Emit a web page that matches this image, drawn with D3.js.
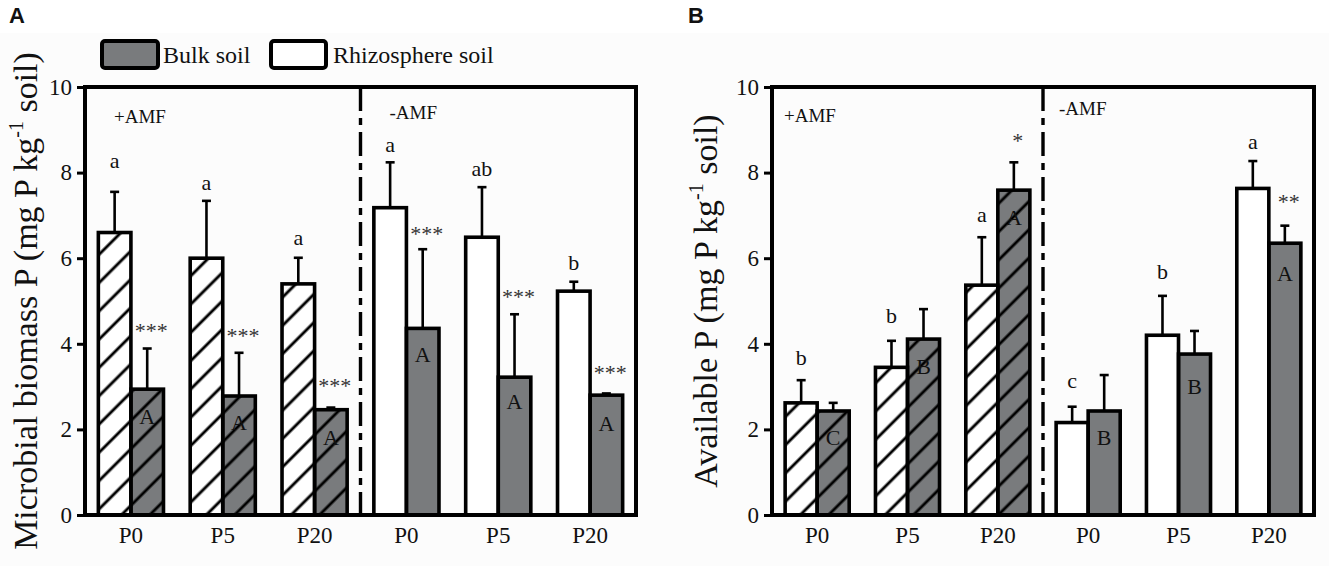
<!DOCTYPE html>
<html>
<head>
<meta charset="utf-8">
<script src="https://cdn.jsdelivr.net/npm/d3@7"></script>
<style>
  body { margin: 0; background: #fff; }
  svg text { font-family: "Liberation Serif", "Times New Roman", serif; fill: #111; }
</style>
</head>
<body>
<div id="chart"></div>
<script>
// ---- data ----
const groups = ["+AMF P0", "+AMF P5", "+AMF P20", "-AMF P0", "-AMF P5", "-AMF P20"];
const tickLabels = ["P0", "P5", "P20", "P0", "P5", "P20"];
const soils = ["rhizo", "bulk"];
const hatched = [true, true, true, false, false, false];
const yTicks = [0, 2, 4, 6, 8, 10];

// A: microbial biomass P
const mbpRhizo = [6.60, 6.00, 5.40, 7.18, 6.49, 5.23];
const mbpRhizoErr = [0.95, 1.34, 0.61, 1.06, 1.17, 0.22];
const mbpBulk = [2.94, 2.78, 2.46, 4.36, 3.22, 2.80];
const mbpBulkErr = [0.95, 1.01, 0.05, 1.85, 1.47, 0.04];
const mbpRhizoLetters = ["a", "a", "a", "a", "ab", "b"];
const mbpRhizoLetterY = [8.22, 7.71, 6.43, 8.60, 8.10, 5.89];
const mbpStars = ["***", "***", "***", "***", "***", "***"];
const mbpStarY = [4.40, 4.28, 3.11, 6.66, 5.18, 3.41];
const mbpBulkLetters = ["A", "A", "A", "A", "A", "A"];
const mbpBulkLetterY = [2.31, 2.15, 1.82, 3.74, 2.64, 2.13];

// B: available P
const apRhizo = [2.62, 3.45, 5.37, 2.16, 4.20, 7.63];
const apRhizoErr = [0.53, 0.62, 1.12, 0.37, 0.92, 0.64];
const apBulk = [2.43, 4.11, 7.59, 2.43, 3.76, 6.35];
const apBulkErr = [0.19, 0.70, 0.65, 0.84, 0.54, 0.41];
const apRhizoLetters = ["b", "b", "a", "c", "b", "a"];
const apRhizoLetterY = [3.69, 4.67, 6.97, 3.08, 5.68, 8.68];
const apStars = ["", "", "*", "", "", "**"];
const apStarY = [0, 0, 8.84, 0, 0, 7.40];
const apBulkLetters = ["C", "B", "A", "B", "B", "A"];
const apBulkLetterY = [1.80, 3.46, 6.94, 1.80, 3.00, 5.65];

const gray = "#797b7d";
const width = 1329, height = 566;
const plotTop = 87, plotBottom = 515;

const svg = d3.select("#chart").append("svg")
    .attr("width", width)
    .attr("height", height);

svg.append("rect").attr("width", width).attr("height", height).attr("fill", "#fff");
svg.append("rect").attr("y", 33).attr("width", width).attr("height", height - 33).attr("fill", "#fcfcfc");

const defs = svg.append("defs");
defs.append("pattern")
    .attr("id", "hatch")
    .attr("patternUnits", "userSpaceOnUse")
    .attr("width", 20).attr("height", 20)
    .attr("patternTransform", "rotate(45)")
    .append("line")
    .attr("x1", 10).attr("y1", 0).attr("x2", 10).attr("y2", 20)
    .attr("stroke", "#000").attr("stroke-width", 2.9);

function labelDy(t) {
    if (/^\*+$/.test(t)) return "0.5em";
    if (/^[ac]$/.test(t)) return "0.23em";
    return "0.34em";
}

function drawPanel(p) {
    const y = d3.scaleLinear().domain([0, 10]).range([plotBottom, plotTop]);
    const x0 = d3.scaleBand().domain(groups).range([p.left, p.right]);
    const x1 = d3.scaleBand().domain(soils).range([0, x0.bandwidth()]).paddingOuter(0.41);
    const g = svg.append("g");

    const bars = [];
    groups.forEach((grp, i) => {
        bars.push({grp: grp, soil: "rhizo", v: p.rhizo[i], e: p.rhizoErr[i], hatch: hatched[i]});
        bars.push({grp: grp, soil: "bulk", v: p.bulk[i], e: p.bulkErr[i], hatch: hatched[i]});
    });

    const bx = d => x0(d.grp) + x1(d.soil);
    const cx = d => bx(d) + x1.bandwidth() / 2;

    // error bars (upper only)
    g.selectAll(".err").data(bars).enter().append("line")
        .attr("x1", cx).attr("x2", cx)
        .attr("y1", d => y(d.v)).attr("y2", d => y(d.v + d.e))
        .attr("stroke", "#000").attr("stroke-width", 2.6);
    g.selectAll(".cap").data(bars).enter().append("line")
        .attr("x1", d => cx(d) - 4.5).attr("x2", d => cx(d) + 4.5)
        .attr("y1", d => y(d.v + d.e)).attr("y2", d => y(d.v + d.e))
        .attr("stroke", "#000").attr("stroke-width", 2.6);

    g.selectAll(".bar").data(bars).enter().append("rect")
        .attr("x", bx).attr("width", x1.bandwidth())
        .attr("y", d => y(d.v)).attr("height", d => y(0) - y(d.v))
        .attr("fill", d => d.soil === "bulk" ? gray : "#fff");
    g.selectAll(".hatch").data(bars.filter(d => d.hatch)).enter().append("rect")
        .attr("x", bx).attr("width", x1.bandwidth())
        .attr("y", d => y(d.v)).attr("height", d => y(0) - y(d.v))
        .attr("fill", "url(#hatch)");
    g.selectAll(".outline").data(bars).enter().append("rect")
        .attr("x", bx).attr("width", x1.bandwidth())
        .attr("y", d => y(d.v)).attr("height", d => y(0) - y(d.v))
        .attr("fill", "none").attr("stroke", "#000").attr("stroke-width", 3.6);

    // annotation letters
    const rc = i => x0(groups[i]) + x1("rhizo") + x1.bandwidth() / 2;
    const bc = i => x0(groups[i]) + x1("bulk") + x1.bandwidth() / 2;
    groups.forEach((grp, i) => {
        g.append("text").attr("x", rc(i)).attr("y", y(p.rhizoLetterY[i]))
            .attr("dy", labelDy(p.rhizoLetters[i]))
            .attr("text-anchor", "middle").attr("font-size", 22)
            .text(p.rhizoLetters[i]);
        if (p.stars[i]) {
            g.append("text").attr("x", bc(i) + 4).attr("y", y(p.starY[i]))
                .attr("dy", labelDy(p.stars[i]))
                .attr("text-anchor", "middle").attr("font-size", 22)
                .style("fill", "#333")
                .text(p.stars[i]);
        }
        g.append("text").attr("x", bc(i)).attr("y", y(p.bulkLetterY[i]))
            .attr("dy", labelDy(p.bulkLetters[i]))
            .attr("text-anchor", "middle").attr("font-size", 22)
            .text(p.bulkLetters[i]);
    });

    // divider between +AMF and -AMF
    const divX = x0(groups[3]);
    g.append("line")
        .attr("x1", divX).attr("x2", divX)
        .attr("y1", plotTop).attr("y2", plotBottom + p.divExtra)
        .attr("stroke", "#000").attr("stroke-width", 3.4)
        .attr("stroke-dasharray", "24,7,7,7");

    g.append("text").attr("x", p.left + p.plusOffset[0]).attr("y", p.plusOffset[1])
        .attr("font-size", 19).text("+AMF");
    g.append("text").attr("x", divX + p.minusOffset[0]).attr("y", p.minusOffset[1])
        .attr("font-size", 19).text("-AMF");

    // frame
    g.append("rect")
        .attr("x", p.left).attr("y", plotTop)
        .attr("width", p.right - p.left).attr("height", plotBottom - plotTop)
        .attr("fill", "none").attr("stroke", "#000").attr("stroke-width", 4);

    // axes
    const yAxis = g.append("g")
        .attr("transform", `translate(${p.left},0)`)
        .call(d3.axisLeft(y).tickValues(yTicks).tickSize(8).tickPadding(5));
    yAxis.select(".domain").remove();
    yAxis.selectAll("line").attr("stroke-width", 3);
    yAxis.selectAll("text")
        .attr("font-size", 23).attr("font-family", null);

    const xAxis = g.append("g")
        .attr("transform", `translate(0,${plotBottom})`)
        .call(d3.axisBottom(x0).tickSize(0).tickPadding(12).tickFormat((d, i) => tickLabels[i]));
    xAxis.select(".domain").remove();
    xAxis.selectAll("text")
        .attr("font-size", 23).attr("font-family", null);
    g.selectAll(".tick text").style("fill", "#111");

    // y title
    const title = g.append("text")
        .attr("transform", `translate(${p.titleX},${(plotTop + plotBottom) / 2}) rotate(-90)`)
        .attr("text-anchor", "middle").attr("font-size", 34);
    title.append("tspan").text(p.title + " (mg P kg");
    title.append("tspan").attr("font-size", 20).attr("dy", -14).text("-1");
    title.append("tspan").attr("dy", 14).text(" soil)");

    // panel letter
    svg.append("text").attr("x", p.letterX).attr("y", 23)
        .attr("font-weight", "bold").attr("font-size", 22)
        .style("font-family", "'Liberation Sans', Arial, sans-serif")
        .text(p.letter);
}

drawPanel({
    letter: "A", letterX: 9,
    left: 85, right: 636,
    rhizo: mbpRhizo, rhizoErr: mbpRhizoErr, bulk: mbpBulk, bulkErr: mbpBulkErr,
    rhizoLetters: mbpRhizoLetters, rhizoLetterY: mbpRhizoLetterY,
    stars: mbpStars, starY: mbpStarY,
    bulkLetters: mbpBulkLetters, bulkLetterY: mbpBulkLetterY,
    divExtra: 3,
    plusOffset: [29, 123], minusOffset: [29, 119],
    title: "Microbial biomass P", titleX: 37
});

drawPanel({
    letter: "B", letterX: 688,
    left: 772, right: 1314,
    rhizo: apRhizo, rhizoErr: apRhizoErr, bulk: apBulk, bulkErr: apBulkErr,
    rhizoLetters: apRhizoLetters, rhizoLetterY: apRhizoLetterY,
    stars: apStars, starY: apStarY,
    bulkLetters: apBulkLetters, bulkLetterY: apBulkLetterY,
    divExtra: 0,
    plusOffset: [12, 122], minusOffset: [16, 115],
    title: "Available P", titleX: 717
});

// legend (panel A)
const legend = svg.append("g");
legend.append("rect").attr("x", 102).attr("y", 41).attr("width", 56).attr("height", 27)
    .attr("rx", 3).attr("fill", gray).attr("stroke", "#000").attr("stroke-width", 4);
legend.append("text").attr("x", 163).attr("y", 63).attr("font-size", 24).text("Bulk soil");
legend.append("rect").attr("x", 271).attr("y", 41).attr("width", 55).attr("height", 27)
    .attr("rx", 3).attr("fill", "#fff").attr("stroke", "#000").attr("stroke-width", 4);
legend.append("text").attr("x", 333).attr("y", 63).attr("font-size", 24).text("Rhizosphere soil");
</script>
</body>
</html>
